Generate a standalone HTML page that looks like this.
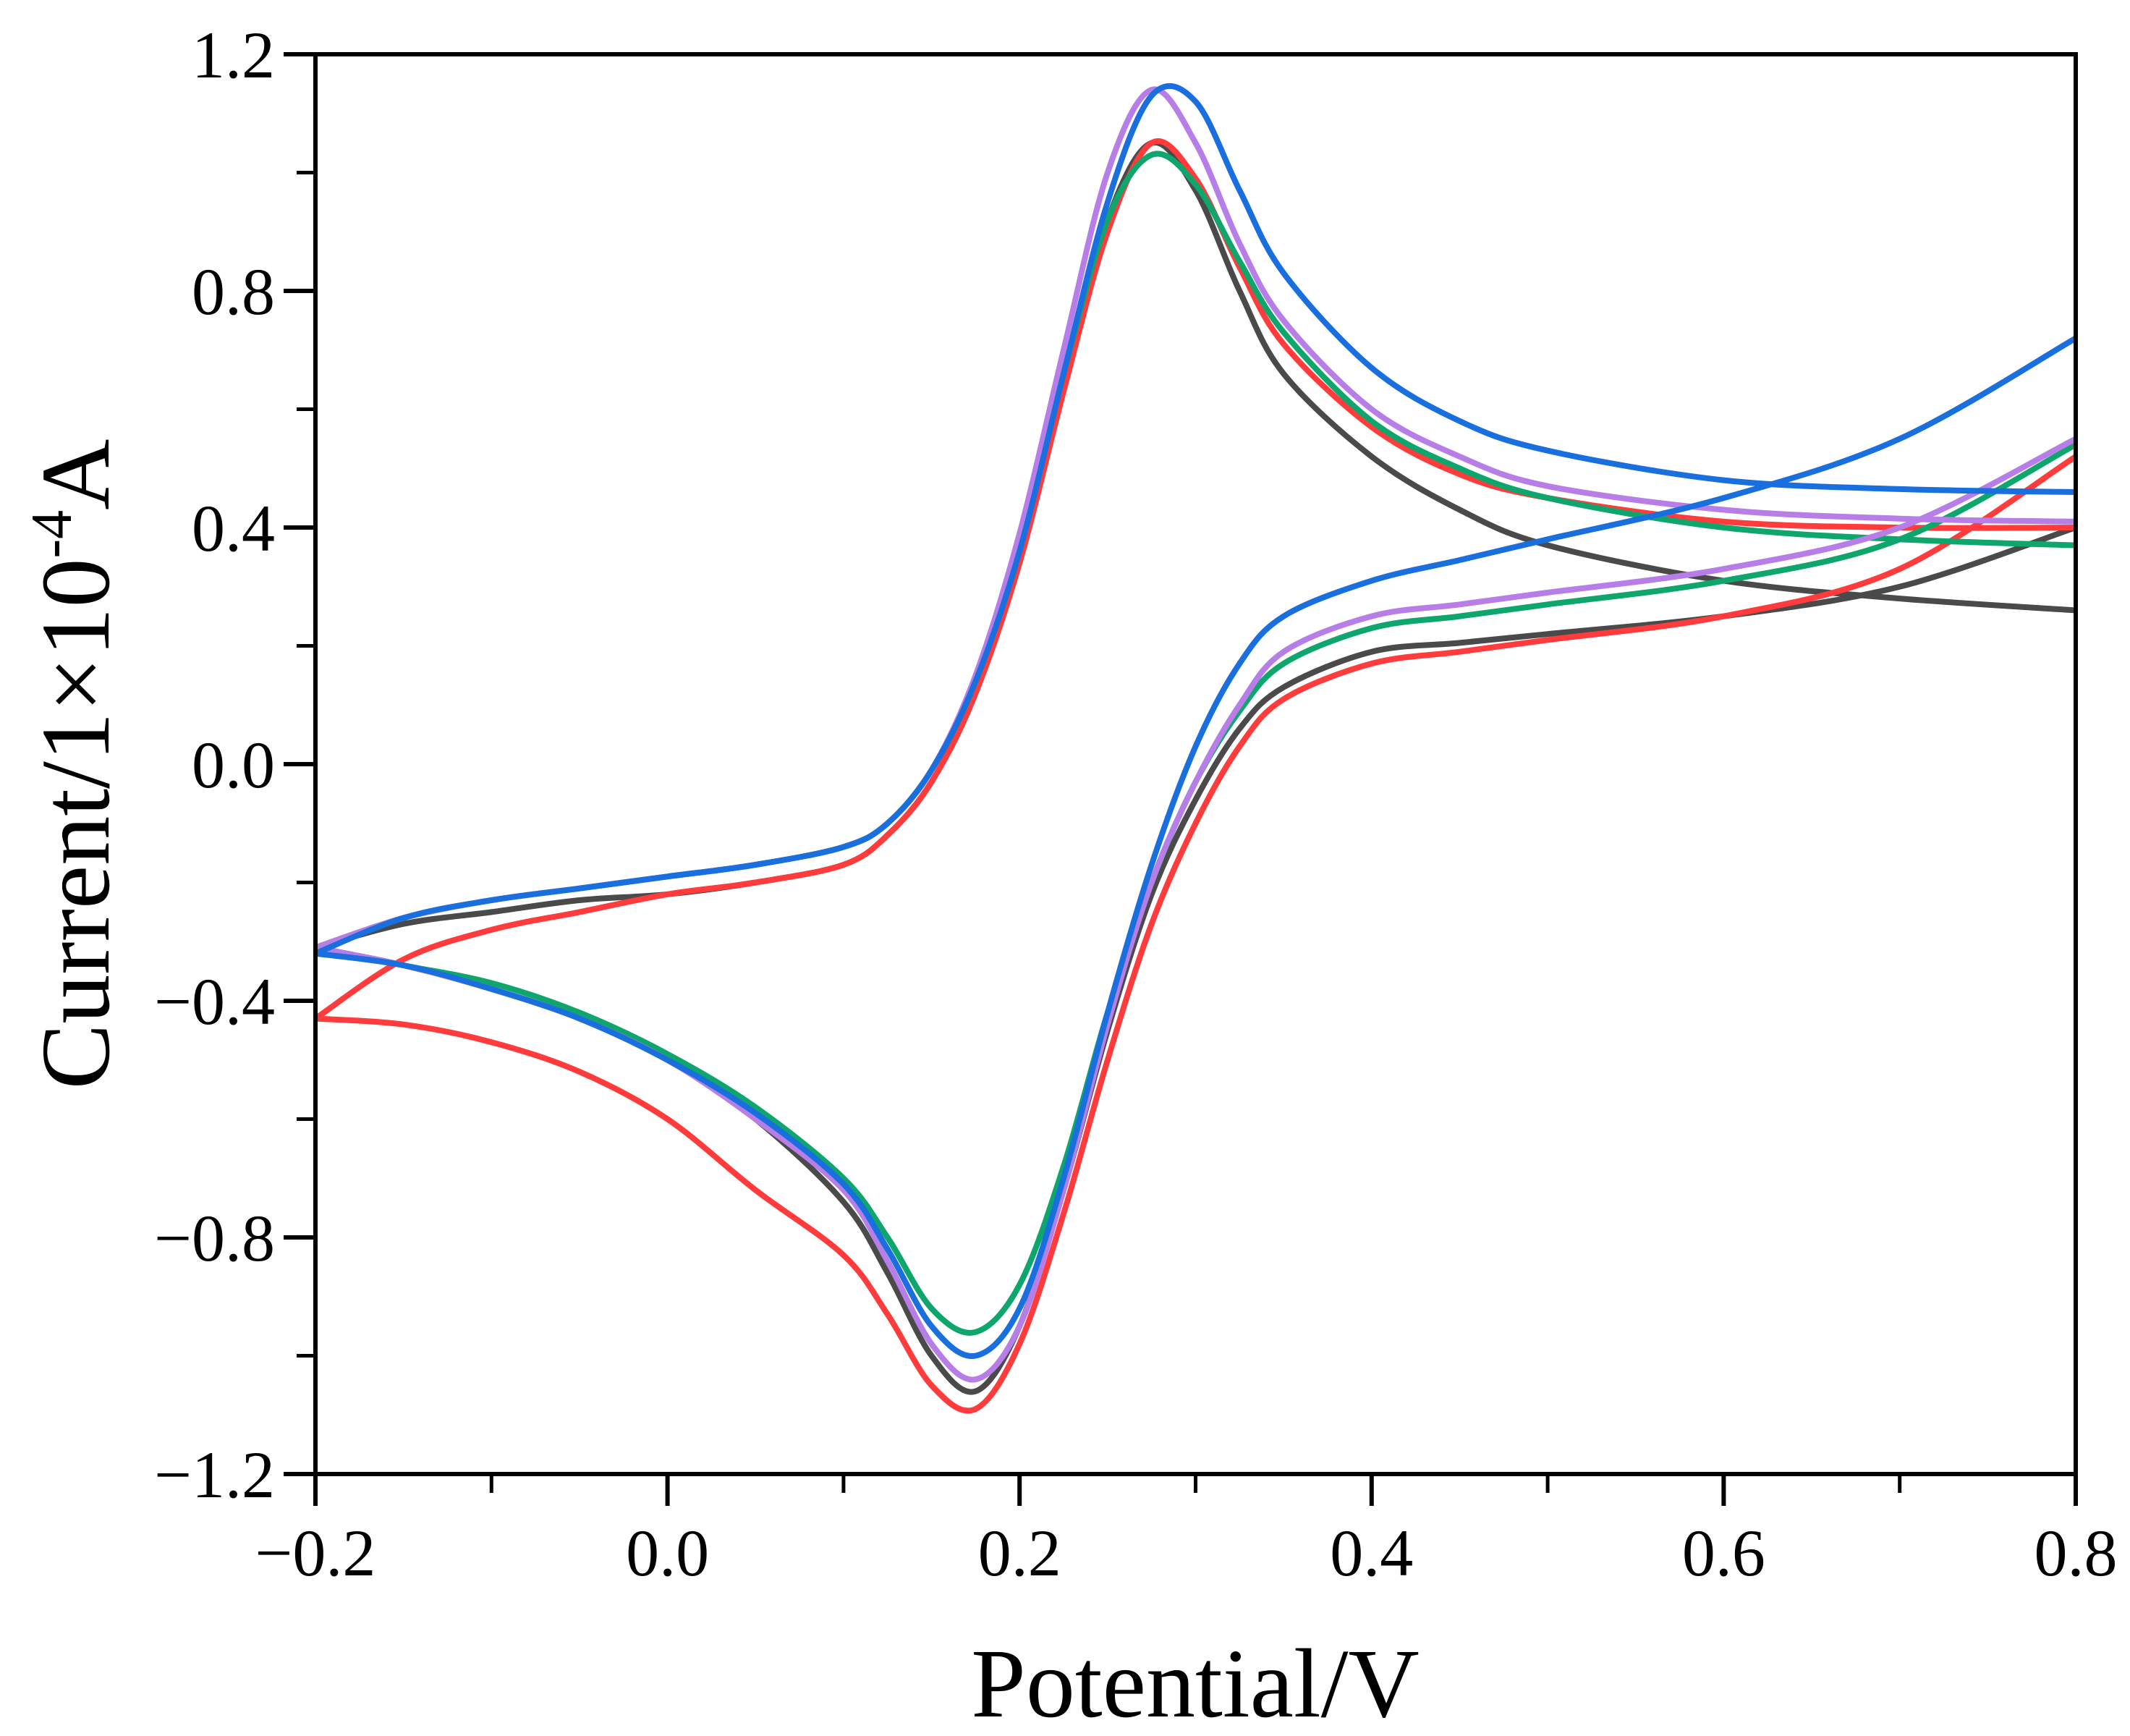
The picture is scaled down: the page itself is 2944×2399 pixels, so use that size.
<!DOCTYPE html>
<html><head><meta charset="utf-8">
<style>
html,body{margin:0;padding:0;background:#fff;}
svg{display:block;font-family:"Liberation Serif",serif;}
</style></head>
<body>
<svg id="chart" width="2944" height="2399" viewBox="0 0 2944 2399" xmlns="http://www.w3.org/2000/svg">
<rect width="2944" height="2399" fill="#fff"/>
<g id="curves"></g>
<g id="axes"></g>
<text x="1652" y="2372" font-size="136" text-anchor="middle">Potential/V</text>
<text transform="translate(150,1056) rotate(-90)" font-size="136" text-anchor="middle">Current/1×10<tspan dy="-52" font-size="80">-4</tspan><tspan dy="52">A</tspan></text>
</svg>
<script>
const xs = [-0.2,-0.15,-0.1,-0.05,0,0.05,0.1,0.125,0.15,0.175,0.2,0.225,0.25,0.275,0.3,0.325,0.35,0.4,0.45,0.5,0.6,0.7,0.8];
const xTicks = [-0.2,0,0.2,0.4,0.6,0.8];
const xTickLabels = ["\u22120.2","0.0","0.2","0.4","0.6","0.8"];
const yTicks = [-1.2,-0.8,-0.4,0,0.4,0.8,1.2];
const yTickLabels = ["\u22121.2","\u22120.8","\u22120.4","0.0","0.4","0.8","1.2"];
const seriesNames = ["black","red","green","purple","blue"];
const seriesColors = ["#4a4a4a","#ff3b3b","#0fa66e","#b87ee8","#1a6fdf"];
const blackUpper = [-0.31,-0.27,-0.25,-0.23,-0.22,-0.2,-0.17,-0.12,-0.03,0.12,0.35,0.65,0.92,1.05,0.97,0.8,0.66,0.52,0.43,0.37,0.31,0.28,0.26];
const blackLower = [-0.31,-0.34,-0.38,-0.43,-0.5,-0.6,-0.74,-0.86,-1.0,-1.06,-0.95,-0.72,-0.45,-0.22,-0.06,0.06,0.13,0.19,0.205,0.22,0.25,0.3,0.4];
const redUpper = [-0.43,-0.33,-0.28,-0.25,-0.22,-0.2,-0.17,-0.12,-0.03,0.12,0.34,0.63,0.9,1.05,0.99,0.84,0.71,0.57,0.49,0.45,0.41,0.4,0.4];
const redLower = [-0.43,-0.44,-0.47,-0.52,-0.6,-0.72,-0.83,-0.93,-1.05,-1.09,-0.98,-0.76,-0.5,-0.27,-0.1,0.03,0.11,0.17,0.19,0.21,0.25,0.33,0.52];
const greenUpper = [-0.31,-0.26,-0.23,-0.21,-0.19,-0.17,-0.14,-0.1,-0.01,0.14,0.37,0.66,0.92,1.03,0.98,0.85,0.73,0.58,0.5,0.45,0.4,0.38,0.37];
const greenLower = [-0.31,-0.34,-0.37,-0.42,-0.49,-0.58,-0.7,-0.8,-0.92,-0.96,-0.88,-0.68,-0.42,-0.2,-0.03,0.09,0.17,0.23,0.25,0.27,0.31,0.38,0.54];
const purpleUpper = [-0.31,-0.26,-0.23,-0.21,-0.19,-0.17,-0.14,-0.1,-0.01,0.15,0.39,0.7,1.0,1.14,1.05,0.88,0.75,0.6,0.52,0.47,0.43,0.415,0.41];
const purpleLower = [-0.31,-0.34,-0.38,-0.43,-0.5,-0.6,-0.72,-0.84,-0.98,-1.04,-0.95,-0.72,-0.44,-0.2,-0.03,0.1,0.19,0.25,0.27,0.29,0.33,0.4,0.55];
const blueUpper = [-0.32,-0.26,-0.23,-0.21,-0.19,-0.17,-0.14,-0.1,-0.01,0.14,0.36,0.66,0.95,1.13,1.12,0.97,0.83,0.67,0.58,0.53,0.48,0.465,0.46];
const blueLower = [-0.32,-0.34,-0.38,-0.43,-0.5,-0.59,-0.71,-0.82,-0.95,-1.0,-0.92,-0.7,-0.42,-0.17,0.03,0.17,0.25,0.31,0.345,0.38,0.45,0.55,0.72];

const L=436,R=2869,T=75,B=2037;
const X0=-0.2,X1=0.8,Y0=-1.2,Y1=1.2;
function sx(v){return L+(v-X0)/(X1-X0)*(R-L);}
function sy(v){return B-(v-Y0)/(Y1-Y0)*(B-T);}
const NS="http://www.w3.org/2000/svg";
function mk(tag,attrs,parent){const e=document.createElementNS(NS,tag);for(const k in attrs)e.setAttribute(k,attrs[k]);parent.appendChild(e);return e;}
function smoothPath(px,py){
  let d="M"+px[0].toFixed(1)+","+py[0].toFixed(1);
  for(let i=0;i<px.length-1;i++){
    const i0=Math.max(0,i-1),i3=Math.min(px.length-1,i+2);
    const c1x=px[i]+(px[i+1]-px[i0])/6,c1y=py[i]+(py[i+1]-py[i0])/6;
    const c2x=px[i+1]-(px[i3]-px[i])/6,c2y=py[i+1]-(py[i3]-py[i])/6;
    d+=" C"+c1x.toFixed(1)+","+c1y.toFixed(1)+" "+c2x.toFixed(1)+","+c2y.toFixed(1)+" "+px[i+1].toFixed(1)+","+py[i+1].toFixed(1);
  }
  return d;
}
const upper=[blackUpper,redUpper,greenUpper,purpleUpper,blueUpper];
const lower=[blackLower,redLower,greenLower,purpleLower,blueLower];
const cg=document.getElementById("curves");
for(let s=0;s<seriesNames.length;s++){
  const px=xs.map(sx);
  const p1=mk("path",{d:smoothPath(px,upper[s].map(sy)),fill:"none",stroke:seriesColors[s],"stroke-width":8,"stroke-linejoin":"round"},cg);
  
  
  const p2=mk("path",{d:smoothPath(px,lower[s].map(sy)),fill:"none",stroke:seriesColors[s],"stroke-width":8,"stroke-linejoin":"round"},cg);
  
  
}
const ag=document.getElementById("axes");
const frame=mk("rect",{x:L,y:T,width:R-L,height:B-T,fill:"none",stroke:"#000","stroke-width":6},ag);


for(let i=0;i<xTicks.length;i++){
  const x=sx(xTicks[i]);
  const t=mk("line",{x1:x,y1:B,x2:x,y2:B+44,stroke:"#000","stroke-width":6},ag);
  
  
  const lb=mk("text",{x:x,y:B+140,"font-size":92,"text-anchor":"middle"},ag);
  lb.textContent=xTickLabels[i];
  
  
  if(i<xTicks.length-1){
    const mx=sx((xTicks[i]+xTicks[i+1])/2);
    const m=mk("line",{x1:mx,y1:B,x2:mx,y2:B+26,stroke:"#000","stroke-width":5},ag);
    
    
  }
}
for(let i=0;i<yTicks.length;i++){
  const y=sy(yTicks[i]);
  const t=mk("line",{x1:L-44,y1:y,x2:L,y2:y,stroke:"#000","stroke-width":6},ag);
  
  
  const lb=mk("text",{x:L-56,y:y+32,"font-size":92,"text-anchor":"end"},ag);
  lb.textContent=yTickLabels[i];
  
  
  if(i<yTicks.length-1){
    const my=sy((yTicks[i]+yTicks[i+1])/2);
    const m=mk("line",{x1:L-26,y1:my,x2:L,y2:my,stroke:"#000","stroke-width":5},ag);
    
    
  }
}
</script>
</body></html>
